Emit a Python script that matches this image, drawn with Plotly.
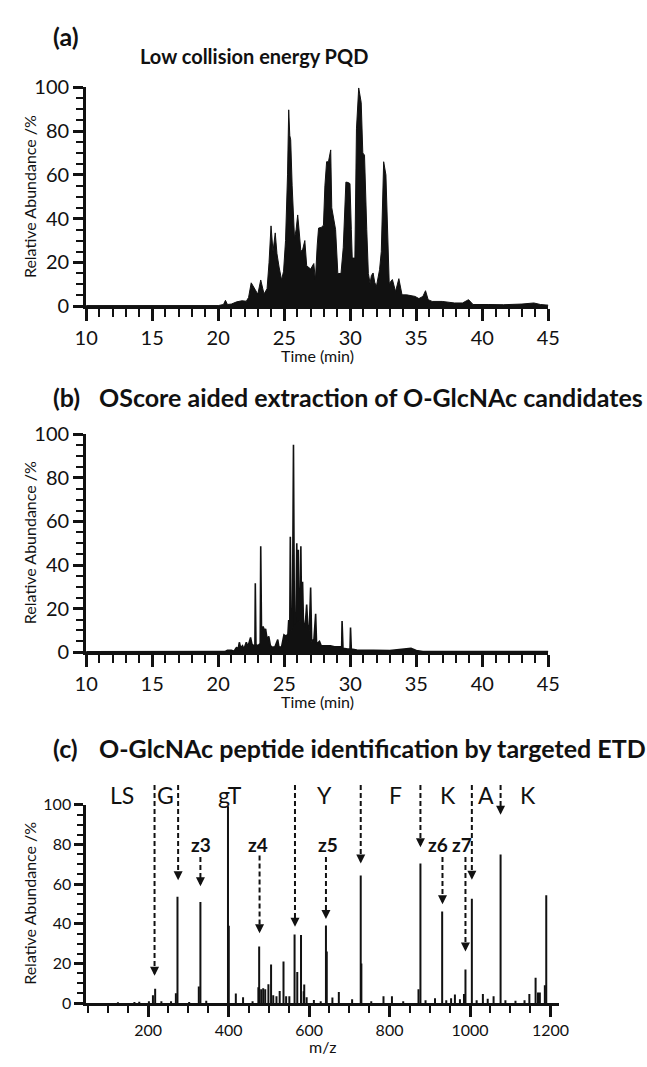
import plotly.graph_objects as go

W, H = 647, 1067
FONT = "Lato, 'Open Sans', sans-serif"
INK = "#111111"

# ---------------- Panel (a): Low collision energy PQD chromatogram ----------------
a_time = [10.0, 20.0, 20.4, 20.55, 20.7, 21.0, 21.4, 21.8, 22.13, 22.3, 22.5, 22.7, 22.86, 23.0,
          23.22, 23.35, 23.47, 23.7, 23.85, 24.0, 24.15, 24.32, 24.45, 24.61, 24.8, 24.95, 25.1,
          25.25, 25.34, 25.42, 25.49, 25.6, 25.66, 25.78, 25.9, 26.02, 26.15, 26.26, 26.4, 26.56,
          26.7, 26.85, 27.0, 27.24, 27.36, 27.5, 27.6, 27.8, 27.97, 28.08, 28.21, 28.35, 28.52,
          28.6, 28.75, 28.89, 29.06, 29.3, 29.47, 29.6, 29.67, 29.85, 29.98, 30.08, 30.15, 30.35,
          30.47, 30.64, 30.75, 30.83, 30.95, 31.08, 31.25, 31.37, 31.5, 31.6, 31.73, 31.85, 31.98,
          32.1, 32.22, 32.35, 32.53, 32.7, 32.85, 32.95, 33.19, 33.43, 33.68, 33.92, 34.28, 34.6,
          34.9, 35.2, 35.5, 35.7, 35.9, 36.2, 36.96, 37.9, 38.5, 38.96, 39.3, 40.5, 41.6, 43.0,
          43.9, 44.4, 44.7, 45.0]
a_abund = [0.3, 0.3, 0.8, 2.7, 0.8, 1.0, 2.0, 2.5, 2.3, 4.0, 10.7, 8.5, 7.0, 5.5,
           12.0, 9.0, 5.6, 8.0, 20.0, 36.7, 25.0, 33.5, 24.0, 17.9, 12.0, 16.0, 30.0,
           60.0, 89.7, 78.0, 76.0, 55.0, 46.0, 31.0, 35.0, 41.7, 33.0, 25.0, 26.0, 30.0,
           18.5, 17.5, 17.0, 19.5, 12.0, 28.0, 35.7, 36.0, 37.0, 55.0, 66.0, 66.0, 71.4,
           45.0, 38.7, 35.0, 14.9, 15.0, 26.8, 50.0, 56.7, 56.5, 56.0, 35.0, 22.0, 22.0,
           81.0, 99.7, 96.0, 93.0, 70.0, 69.0, 35.0, 15.0, 10.4, 14.0, 15.2, 11.0, 9.0,
           13.0, 16.7, 25.0, 66.0, 60.0, 35.0, 10.4, 12.2, 6.7, 12.6, 5.2, 5.2, 4.8,
           4.5, 3.5, 4.5, 7.1, 3.0, 2.2, 2.2, 1.5, 1.5, 3.0, 0.8, 0.8, 0.7, 1.0,
           1.5, 0.8, 0.7, 0.5]

# ---------------- Panel (b): OScore extracted candidates ----------------
b_time = [10.0, 20.5, 20.7, 21.0, 21.2, 21.4, 21.5, 21.6, 21.7, 21.84, 21.95, 22.13, 22.25, 22.45,
          22.55, 22.7, 22.78, 22.81, 22.86, 23.0, 23.18, 23.22, 23.28, 23.4, 23.5, 23.59, 23.7,
          23.83, 23.95, 24.1, 24.3, 24.51, 24.6, 24.8, 24.98, 25.1, 25.17, 25.25, 25.34, 25.42,
          25.46, 25.52, 25.62, 25.7, 25.77, 25.88, 25.95, 26.01, 26.07, 26.13, 26.2, 26.26, 26.32,
          26.39, 26.46, 26.55, 26.62, 26.7, 26.78, 26.9, 27.0, 27.08, 27.25, 27.38, 27.45, 27.67,
          27.8, 28.0, 28.5, 28.8, 29.2, 29.35, 29.38, 29.45, 29.8, 29.98, 30.02, 30.08, 30.5, 31.5,
          33.0, 34.6, 35.0, 35.5, 45.0]
b_abund = [0.2, 0.3, 0.9, 0.9, 0.5, 2.3, 1.0, 4.6, 2.0, 3.0, 1.5, 4.6, 2.5, 6.8,
           3.8, 3.0, 3.5, 31.7, 3.5, 3.0, 4.0, 48.6, 10.0, 11.8, 10.0, 10.7, 6.0,
           7.3, 3.0, 2.3, 2.5, 5.8, 2.3, 2.5, 8.0, 7.5, 7.7, 5.0, 14.8, 10.0,
           53.0, 10.0, 12.0, 95.2, 13.0, 14.0, 50.0, 14.0, 47.0, 15.0, 14.0, 48.6, 14.0,
           32.4, 12.3, 12.0, 15.0, 21.9, 12.7, 10.0, 29.7, 5.0, 6.0, 17.7, 3.8, 5.0,
           3.0, 3.0, 3.0, 2.5, 2.5, 2.5, 14.3, 1.8, 1.5, 1.5, 11.4, 1.5, 1.0, 0.8,
           0.8, 1.8, 0.8, 0.3, 0.3]

# ---------------- Panel (c): targeted ETD spectrum ----------------
c_mz = [125, 166, 178, 202, 212, 217.5, 233, 257, 269, 273, 302, 326, 330, 344.5, 398.5, 400.5,
        418, 436, 459.6, 474, 476, 481, 486, 491, 499, 505.6, 511, 519, 527, 536.5, 543, 551,
        564, 570.7, 580, 586.6, 588, 594, 612, 629, 642, 644, 658, 674, 707, 728.4, 730, 754.6,
        785, 806, 834, 872, 876.8, 889.5, 913, 930.8, 941, 953, 962.5, 975, 985, 988.7, 1004.6,
        1016.5, 1032, 1044, 1058.6, 1076, 1088, 1113, 1135.5, 1147.5, 1163, 1169, 1173.6, 1186,
        1189.5]
c_int = [0.5, 0.6, 0.8, 1.0, 4.0, 7.3, 1.0, 1.0, 5.0, 53.6, 0.6, 8.4, 51.0, 1.2, 99.2, 39.0,
         4.9, 3.0, 1.0, 8.0, 28.6, 7.0, 7.5, 7.0, 9.6, 19.5, 4.0, 3.5, 6.2, 21.0, 3.5, 3.5,
         34.6, 15.7, 34.4, 6.0, 9.4, 3.0, 1.6, 1.0, 39.2, 26.0, 2.9, 5.6, 2.0, 64.4, 20.0, 1.0,
         3.5, 3.5, 1.0, 7.1, 70.4, 1.5, 2.5, 46.2, 1.5, 2.5, 4.4, 2.0, 4.6, 17.0, 52.7,
         1.5, 4.6, 2.3, 3.5, 75.0, 1.5, 1.3, 1.5, 4.6, 12.8, 5.4, 5.4, 9.0,
         54.4]

# sequence letters above the spectrum (level in % of the y scale)
seq_labels = ["LS", "G", "gT", "Y", "F", "K", "A", "K"]
seq_mz = [134, 243.7, 404, 639.5, 814, 945, 1040, 1143.5]
seq_level = 105

# dashed fragment arrows (long ones from the sequence row, short ones from z labels)
arrow_mz = [216, 274.6, 330, 477, 565, 642, 728.4, 876.8, 931.6, 988.7, 1004.6, 1076]
arrow_top = [110, 110, 73.7, 74.5, 110, 73.7, 110, 110, 73.7, 73.7, 110, 110]
arrow_tip = [13.8, 62, 58.9, 35.2, 38.5, 42.5, 70.4, 78.6, 49.9, 26.1, 62.2, 95]

z_labels = ["z3", "z4", "z5", "z6", "z7"]
z_mz = [332.6, 474, 647, 921, 981]
z_level = 80

# ---------------- build figure ----------------
fig = go.Figure()

fig.add_trace(go.Scatter(x=a_time, y=a_abund, mode="lines", fill="tozeroy",
                         fillcolor=INK, line=dict(color=INK, width=1),
                         xaxis="x", yaxis="y", showlegend=False, hoverinfo="skip"))
fig.add_trace(go.Scatter(x=b_time, y=b_abund, mode="lines", fill="tozeroy",
                         fillcolor=INK, line=dict(color=INK, width=1.6),
                         xaxis="x2", yaxis="y2", showlegend=False, hoverinfo="skip"))

sx, sy = [], []
for m, v in zip(c_mz, c_int):
    sx += [m, m, None]
    sy += [0, v, None]
fig.add_trace(go.Scatter(x=sx, y=sy, mode="lines", line=dict(color=INK, width=2),
                         xaxis="x3", yaxis="y3", showlegend=False, hoverinfo="skip"))


def px_x(p):
    return p / W


def px_y(p):
    return 1 - p / H


def time_xaxis(domain, anchor):
    return dict(domain=domain, anchor=anchor, range=[10, 45], tickmode="array",
                tickvals=[10, 15, 20, 25, 30, 35, 40, 45],
                ticks="outside", ticklen=12, tickwidth=3, tickcolor=INK,
                showline=True, linewidth=3, linecolor=INK, showgrid=False, zeroline=False,
                tickfont=dict(family=FONT, size=20, color=INK),
                minor=dict(ticks="outside", ticklen=8, tickwidth=2, tickcolor=INK,
                           dtick=1, tick0=10, showgrid=False))


def abund_yaxis(domain, anchor, fs, lw, tl, ml):
    return dict(domain=domain, anchor=anchor, range=[0, 100], dtick=20, tick0=0,
                ticks="outside", ticklen=tl, tickwidth=lw, tickcolor=INK,
                showline=True, linewidth=lw, linecolor=INK, showgrid=False, zeroline=False,
                tickfont=dict(family=FONT, size=fs, color=INK),
                minor=dict(ticks="outside", ticklen=ml, tickwidth=2, tickcolor=INK,
                           dtick=5, tick0=0, showgrid=False))


xa = [px_x(77), px_x(557)]
xc = [px_x(77), px_x(568)]
c_dom = [px_y(1013), px_y(810)]

fig.update_layout(
    width=W, height=H, margin=dict(l=0, r=0, t=0, b=0),
    paper_bgcolor="white", plot_bgcolor="white",
    xaxis=time_xaxis(xa, "y"),
    yaxis=abund_yaxis([px_y(300), px_y(76)], "x", 20, 3, 10, 7),
    xaxis2=time_xaxis(xa, "y2"),
    yaxis2=abund_yaxis([px_y(654), px_y(431)], "x2", 20, 3, 10, 7),
    xaxis3=dict(domain=xc, anchor="y3", range=[46, 1221], dtick=200, tick0=0,
                ticks="outside", ticklen=11, tickwidth=2.5, tickcolor=INK,
                showline=True, linewidth=2.5, linecolor=INK, showgrid=False, zeroline=False,
                tickfont=dict(family=FONT, size=16, color=INK),
                minor=dict(ticks="outside", ticklen=7, tickwidth=2, tickcolor=INK,
                           dtick=50, tick0=0, showgrid=False)),
    yaxis3=abund_yaxis(c_dom, "x3", 16, 2.5, 9, 6),
)


def c_paper(v):
    # position of a y3 value in paper coordinates (lets marks sit above the axis range)
    return c_dom[0] + (c_dom[1] - c_dom[0]) * v / 100.0


ann = []


def txt(x, y, s, size, bold=False, xanchor="center", angle=0):
    ann.append(dict(xref="paper", yref="paper", x=px_x(x), y=px_y(y),
                    text=("<b>%s</b>" % s) if bold else s,
                    showarrow=False, xanchor=xanchor, yanchor="middle", textangle=angle,
                    font=dict(family=FONT, size=size, color=INK)))


# panel labels and titles
txt(40, 24, "(a)", 25, True, "left")
txt(372, 44, "Low collision energy PQD", 20, True, "right")
txt(40, 393, "(b)", 25, True, "left")
txt(88, 393, "OScore aided extraction of O-GlcNAc candidates", 25, True, "left")
txt(40, 752, "(c)", 25, True, "left")
txt(88, 752, "O-GlcNAc peptide identification by targeted ETD", 25, True, "left")

# axis titles
txt(18, 188, "Relative Abundance /%", 16, angle=-90)
txt(18, 542, "Relative Abundance /%", 16, angle=-90)
txt(18, 911, "Relative Abundance /%", 16, angle=-90)
txt(317, 350, "Time (min)", 16)
txt(317, 704, "Time (min)", 16)
txt(322, 1057, "m/z", 16)

# spectrum annotations
for s, m in zip(seq_labels, seq_mz):
    ann.append(dict(xref="x3", yref="paper", x=m, y=c_paper(seq_level), text=s, showarrow=False,
                    xanchor="center", yanchor="middle",
                    font=dict(family=FONT, size=23, color=INK)))
for s, m in zip(z_labels, z_mz):
    ann.append(dict(xref="x3", yref="paper", x=m, y=c_paper(z_level), text="<b>%s</b>" % s,
                    showarrow=False, xanchor="center", yanchor="middle",
                    font=dict(family=FONT, size=19, color=INK)))

shapes = []
for m, t0, t1 in zip(arrow_mz, arrow_top, arrow_tip):
    shapes.append(dict(type="line", xref="x3", yref="paper", x0=m, x1=m,
                       y0=c_paper(t0), y1=c_paper(t1 + 3),
                       line=dict(color=INK, width=2, dash="5px,3px")))
    ann.append(dict(xref="x3", yref="paper", x=m, y=c_paper(t1), text="", showarrow=True,
                    ax=0, ay=-7, arrowhead=2, arrowsize=0.9,
                    arrowwidth=2, arrowcolor=INK, standoff=0))

fig.update_layout(annotations=ann, shapes=shapes)

fig.write_html("out.html", config={"displayModeBar": False},
               post_script="document.body.style.margin='0';")
